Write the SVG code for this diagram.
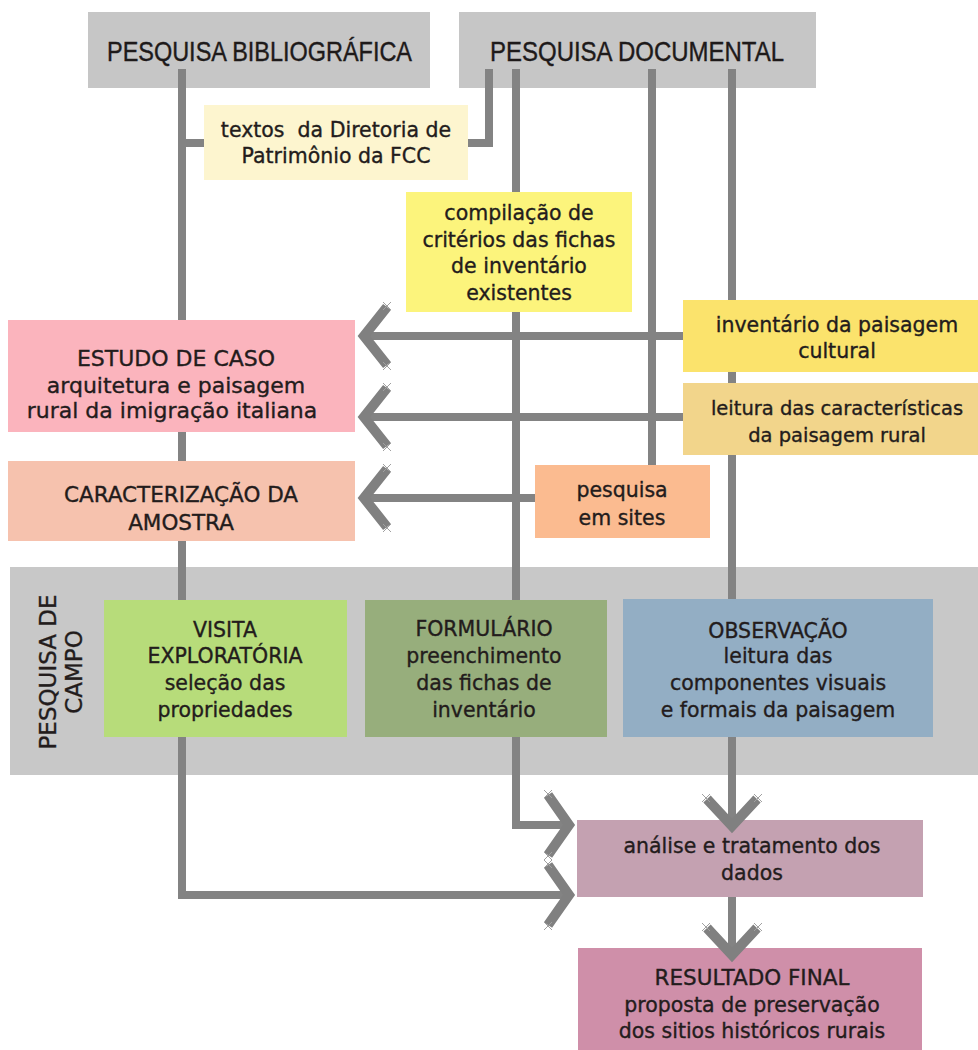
<svg xmlns="http://www.w3.org/2000/svg" xmlns:xlink="http://www.w3.org/1999/xlink" width="978" height="1050" viewBox="0 0 978 1050">
<defs>
<style>
.t{font-family:"DejaVu Sans","Liberation Sans",sans-serif;font-size:20.5px;fill:#231c1c;stroke:#231c1c;stroke-width:0.35px;text-anchor:middle}
.h{font-family:"Liberation Sans","DejaVu Sans",sans-serif;font-size:28px;fill:#1e1a1a;stroke:#1e1a1a;stroke-width:0.4px;text-anchor:start}
.ln{fill:none;stroke:#838383;stroke-width:8;stroke-linejoin:miter}
.ch{fill:none;stroke:#808080;stroke-width:10;stroke-linejoin:miter;stroke-miterlimit:10}
.xm{stroke:#a0a0a0;stroke-width:1}
</style>
<g id="xm"><path class="xm" d="M-4,-4L4,4M-4,4L4,-4"/></g>
<g id="chL"><polyline class="ch" points="23,-29 0,0 23,29"/><use xlink:href="#xm" x="23" y="-30"/><use xlink:href="#xm" x="23" y="30"/></g>
<g id="chR"><polyline class="ch" points="-21,-30 0,0 -21,30"/><use xlink:href="#xm" x="-21" y="-31"/><use xlink:href="#xm" x="-21" y="31"/></g>
<g id="chD"><polyline class="ch" points="-25,-27 0,0 25,-27"/><use xlink:href="#xm" x="-26" y="-28"/><use xlink:href="#xm" x="26" y="-28"/></g>
</defs>
<rect width="978" height="1050" fill="#ffffff"/>

<g id="pesquisa-bibliografica">
<rect x="88" y="12" width="342" height="76" fill="#c6c6c6"/>
<text class="h" x="107" y="61" textLength="305" lengthAdjust="spacingAndGlyphs">PESQUISA BIBLIOGRÁFICA</text>
</g>
<g id="pesquisa-documental">
<rect x="459" y="12" width="357" height="76" fill="#c6c6c6"/>
<text class="h" x="490" y="61" textLength="294" lengthAdjust="spacingAndGlyphs">PESQUISA DOCUMENTAL</text>
</g>
<g id="pesquisa-de-campo">
<rect x="10" y="567" width="968" height="208" fill="#c8c8c8"/>
<text class="t" style="font-size:23px" transform="translate(56,672) rotate(-90)">PESQUISA DE</text>
<text class="t" style="font-size:23px" transform="translate(82,672) rotate(-90)">CAMPO</text>
</g>

<g id="connectors">
<path class="ln" d="M182,69V895H564"/>
<path class="ln" d="M182,143H206"/>
<path class="ln" d="M489,69V143H466"/>
<path class="ln" d="M516,69V825H564"/>
<path class="ln" d="M652,69V466"/>
<path class="ln" d="M732,69V822"/>
<path class="ln" d="M732,896V950"/>
<path class="ln" d="M684,336H368"/>
<path class="ln" d="M684,417H368"/>
<path class="ln" d="M536,498H368"/>
</g>

<g id="textos">
<rect x="204" y="105" width="264" height="75" fill="#fdf5cf"/>
<text class="t" x="336" y="137" xml:space="preserve">textos  da Diretoria de</text>
<text class="t" x="336" y="163">Patrimônio da FCC</text>
</g>
<g id="compilacao">
<rect x="406" y="192" width="226" height="120" fill="#fcf47c"/>
<text class="t" x="519" y="220">compilação de</text>
<text class="t" x="519" y="247">critérios das fichas</text>
<text class="t" x="519" y="273">de inventário</text>
<text class="t" x="519" y="300">existentes</text>
</g>
<g id="estudo-de-caso">
<rect x="8" y="320" width="347" height="112" fill="#fbb4bd"/>
<text class="t" style="font-size:22px" x="176" y="366">ESTUDO DE CASO</text>
<text class="t" style="font-size:22px" x="176" y="393">arquitetura e paisagem</text>
<text class="t" style="font-size:22px" x="172" y="418">rural da imigração italiana</text>
</g>
<g id="caracterizacao">
<rect x="8" y="461" width="347" height="80" fill="#f6c2ae"/>
<text class="t" style="font-size:21.5px" x="181" y="502">CARACTERIZAÇÃO DA</text>
<text class="t" style="font-size:21.5px" x="181" y="530">AMOSTRA</text>
</g>
<g id="inventario">
<rect x="683" y="300" width="295" height="72" fill="#fbe36c"/>
<text class="t" x="837" y="332">inventário da paisagem</text>
<text class="t" x="837" y="358">cultural</text>
</g>
<g id="leitura">
<rect x="683" y="383" width="295" height="72" fill="#f2d58b"/>
<text class="t" style="font-size:19.5px" x="837" y="415">leitura das características</text>
<text class="t" style="font-size:19.5px" x="837" y="442">da paisagem rural</text>
</g>
<g id="sites">
<rect x="535" y="465" width="175" height="73" fill="#fbbb90"/>
<text class="t" x="622" y="497">pesquisa</text>
<text class="t" x="622" y="525">em sites</text>
</g>
<g id="visita">
<rect x="104" y="600" width="243" height="137" fill="#b7dc7a"/>
<text class="t" x="225" y="637">VISITA</text>
<text class="t" x="225" y="663">EXPLORATÓRIA</text>
<text class="t" x="225" y="690">seleção das</text>
<text class="t" x="225" y="717">propriedades</text>
</g>
<g id="formulario">
<rect x="365" y="600" width="242" height="137" fill="#97ae7c"/>
<text class="t" x="484" y="636">FORMULÁRIO</text>
<text class="t" x="484" y="663">preenchimento</text>
<text class="t" x="484" y="690">das fichas de</text>
<text class="t" x="484" y="717">inventário</text>
</g>
<g id="observacao">
<rect x="623" y="599" width="310" height="138" fill="#93aec4"/>
<text class="t" x="778" y="638">OBSERVAÇÃO</text>
<text class="t" x="778" y="663">leitura das</text>
<text class="t" x="778" y="690">componentes visuais</text>
<text class="t" x="778" y="717">e formais da paisagem</text>
</g>
<g id="analise">
<rect x="577" y="820" width="346" height="77" fill="#c4a1b1"/>
<text class="t" x="752" y="853">análise e tratamento dos</text>
<text class="t" x="752" y="880">dados</text>
</g>
<g id="resultado">
<rect x="578" y="948" width="344" height="102" fill="#cf8fa9"/>
<text class="t" style="font-size:21.5px" x="752" y="985">RESULTADO FINAL</text>
<text class="t" x="752" y="1012">proposta de preservação</text>
<text class="t" x="752" y="1038">dos sitios históricos rurais</text>
</g>

<g id="arrowheads">
<use xlink:href="#chL" x="364" y="336"/>
<use xlink:href="#chL" x="364" y="417"/>
<use xlink:href="#chL" x="364" y="498"/>
<use xlink:href="#chR" x="569" y="825"/>
<use xlink:href="#chR" x="569" y="895"/>
<use xlink:href="#chD" x="732" y="826"/>
<use xlink:href="#chD" x="732" y="955"/>
</g>
</svg>
